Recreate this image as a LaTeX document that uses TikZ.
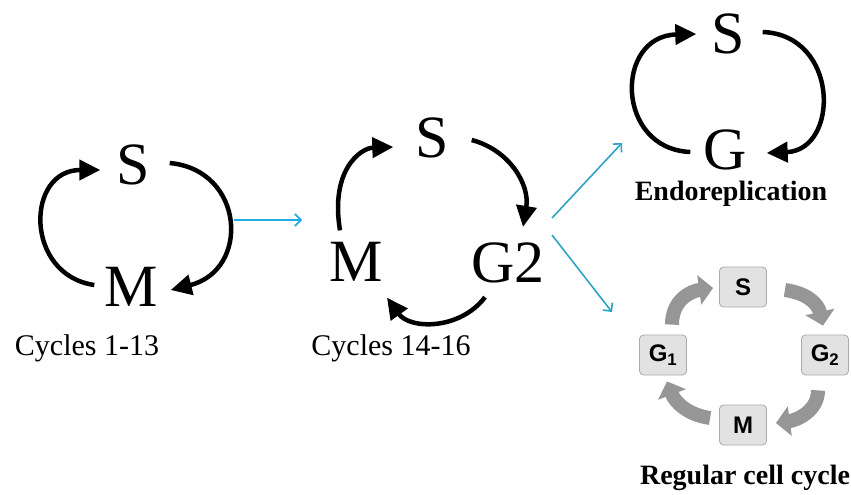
\documentclass[tikz,border=0pt]{standalone}
\usepackage{fontspec}
\setmainfont{Liberation Serif}
\newfontfamily\boxfont{Liberation Sans}
\usetikzlibrary{arrows.meta}
\definecolor{bluea}{RGB}{30,170,228}
\definecolor{blueb}{RGB}{46,163,196}
\definecolor{arrgray}{RGB}{150,150,150}
\definecolor{boxfill}{RGB}{226,226,226}
\definecolor{boxline}{RGB}{170,170,170}
\tikzset{
  phase/.style={inner sep=0pt, outer sep=0pt, font=\fontsize{60}{60}\selectfont},
  caption/.style={inner sep=0pt, font=\fontsize{30}{30}\selectfont},
  boldcap/.style={inner sep=0pt, font=\fontsize{28}{28}\selectfont\bfseries},
  cyc/.style={line width=4.5pt, black, -{Triangle[length=21pt,width=20pt]}},
  bluearrow/.style={line width=1.6pt, -{Straight Barb[length=6pt,width=12pt]}},
  phbox/.style={draw=boxline, fill=boxfill, rounded corners=4pt, line width=0.8pt,
    minimum width=47pt, minimum height=40pt, inner sep=0pt,
    font=\boxfont\bfseries\fontsize{24}{24}\selectfont},
  grayarrow/.style={line width=14pt, arrgray, -{Triangle[length=14pt,width=29pt]}}
}
\begin{document}
\begin{tikzpicture}[x=1pt,y=-1pt]
\useasboundingbox (0,0) rectangle (851,495);

% ---- Cycles 1-13 ----
\node[phase] (S1) at (133,165) {S};
\node[phase] (M1) at (131,287) {M};
\draw[cyc] ([shift={(-10,-2)}]M1.west) .. controls +(-70,-10) and +(-75,0) .. ([shift={(-16,5)}]S1.west);
\draw[cyc] ([shift={(20,-2)}]S1.east) .. controls +(75,7) and +(80,-20) .. ([shift={(13,3)}]M1.east);
\node[caption] (C1) at (87,348) {Cycles 1-13};

% ---- Cycles 14-16 ----
\node[phase] (S2) at (432,138) {S};
\node[phase] (M2) at (356,262) {M};
\node[phase] (G2) at (508,263) {G2};
\draw[cyc] ([shift={(-16,-12)}]M2.north) .. controls +(-10,-60) and +(-33,1) .. ([shift={(-22,9)}]S2.west);
\draw[cyc] ([shift={(23,2)}]S2.east) .. controls +(38,10) and +(7,-42) .. ([shift={(15,-16)}]G2.north);
\draw[cyc] ([shift={(-23,14)}]G2.south) .. controls +(-25,33) and +(23,32) .. ([shift={(31,16)}]M2.south);
\node[caption] (C2) at (391,348) {Cycles 14-16};

% ---- Endoreplication ----
\node[phase] (S3) at (728,34) {S};
\node[phase] (G3) at (725,150) {G};
\draw[cyc] ([shift={(-13,2)}]G3.west) .. controls +(-75,-3) and +(-82,2) .. ([shift={(-15,0)}]S3.west);
\draw[cyc] ([shift={(18,-2)}]S3.east) .. controls +(77,3) and +(73,-3) .. ([shift={(20,3)}]G3.east);
\node[boldcap] (EN) at (731,194) {Endoreplication};

% ---- Regular cell cycle ----
\node[phbox] (SB) at (743,287) {S};
\node[phbox] (G1B) at (663,355) {G\textsubscript{1}};
\node[phbox] (G2B) at (825,355) {G\textsubscript{2}};
\node[phbox] (MB) at (743,425) {M};
\draw[grayarrow] ([shift={(9,-10)}]G1B.north) .. controls +(0,-25) and +(-22,3) .. ([shift={(-6,1)}]SB.west);
\draw[grayarrow] ([shift={(18,3)}]SB.east) .. controls +(22,3) and +(-5,-22) .. ([shift={(-2,-9)}]G2B.north);
\draw[grayarrow] ([shift={(-7,15)}]G2B.south) .. controls +(0,20) and +(22,-3) .. ([shift={(9,-2)}]MB.east);
\draw[grayarrow] ([shift={(-9,-7)}]MB.west) .. controls +(-22,-3) and +(8,21) .. ([shift={(4,6)}]G1B.south);
\node[boldcap] (RC) at (745,478) {Regular cell cycle};

% ---- blue transition arrows ----
\coordinate (B1s) at (234,220);
\coordinate (B1e) at (302,220);
\coordinate (B2s) at (552,218);
\coordinate (B2e) at (622,143);
\coordinate (B3s) at (552,235);
\coordinate (B3e) at (612,312);
\draw[bluearrow, bluea] (B1s) -- (B1e);
\draw[bluearrow, blueb] (B2s) -- (B2e);
\draw[bluearrow, blueb] (B3s) -- (B3e);
\end{tikzpicture}
\end{document}
